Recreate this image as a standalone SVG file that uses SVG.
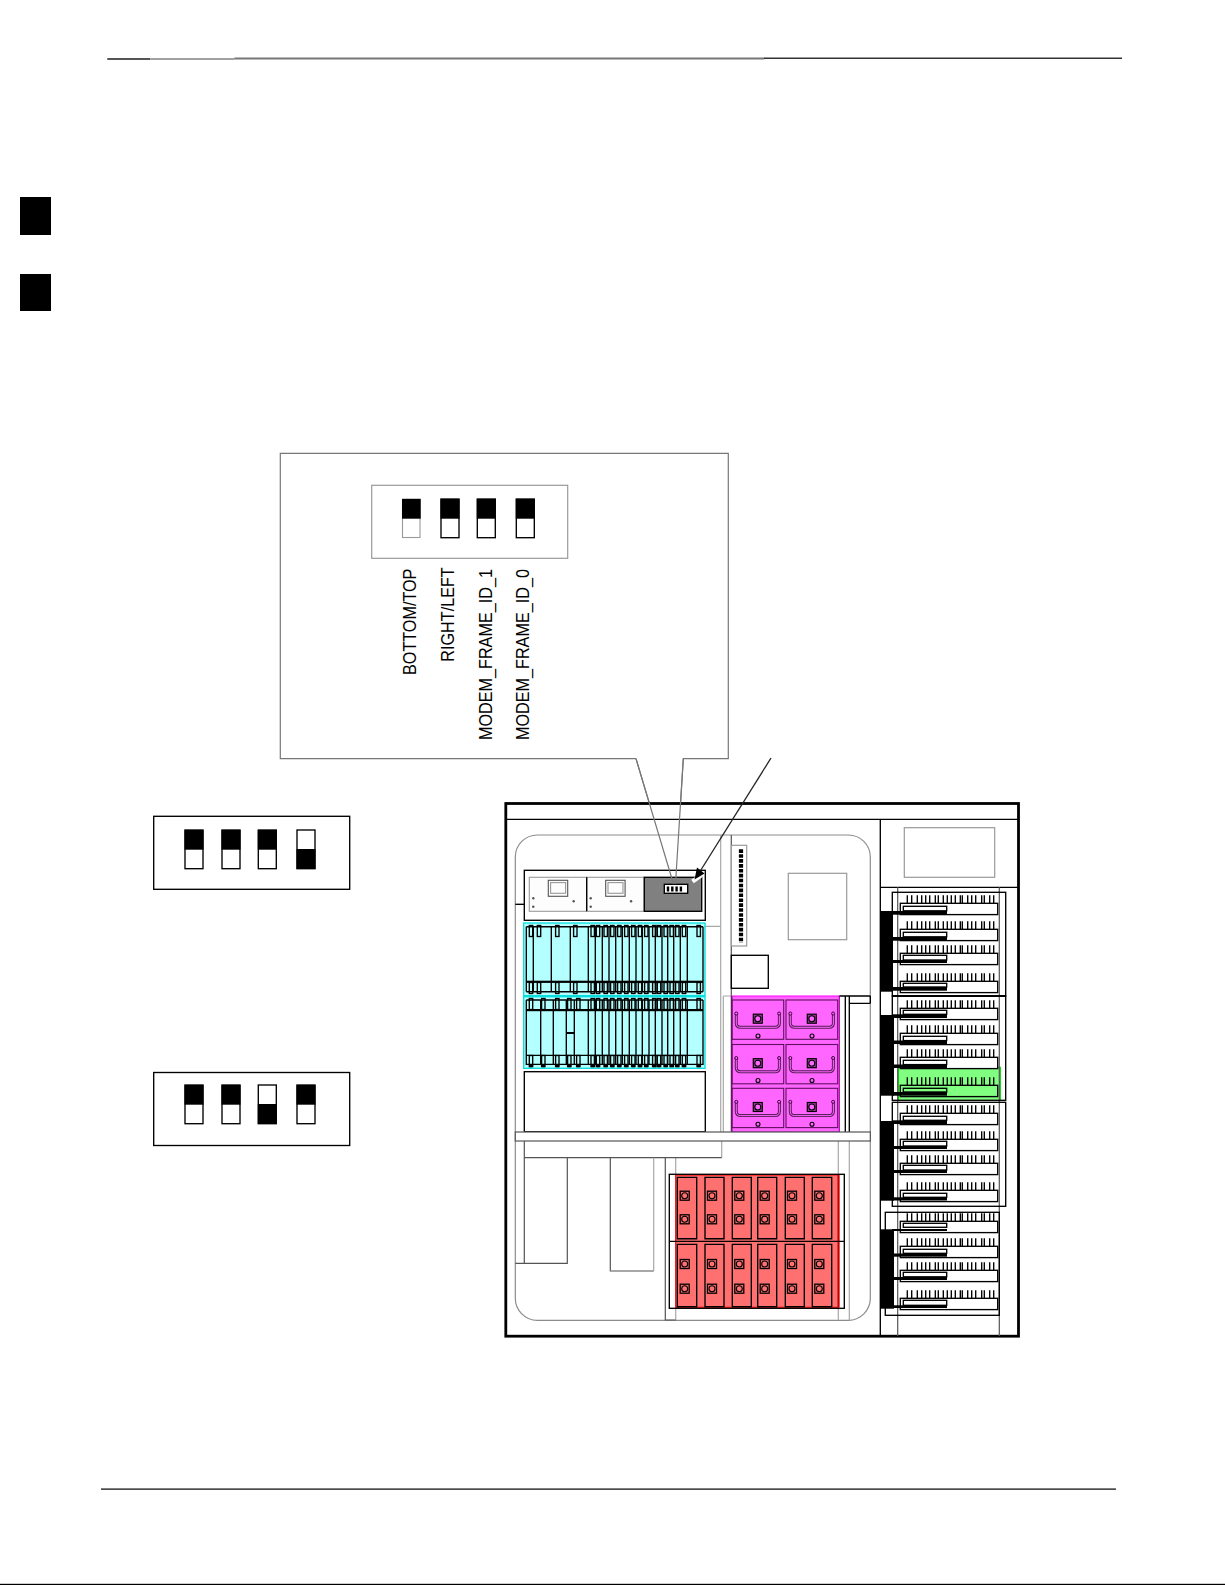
<svg xmlns="http://www.w3.org/2000/svg" width="1225" height="1585" viewBox="0 0 1225 1585">
<style>
.k{fill:none;stroke:#000;stroke-width:1.35}
.w{fill:#fff;stroke:#000;stroke-width:1.35}
.g{fill:none;stroke:#a8a8a8;stroke-width:1.2}
.d{fill:none;stroke:#555;stroke-width:1.2}
.b{fill:#000;stroke:none}
.lbl{font-family:"Liberation Sans",Arial,sans-serif;font-size:18px;fill:#000}
</style>
<defs>
<g id="sw-up"><rect x="0" y="0" width="18" height="38.7" class="w"/><rect x="-.5" y="0" width="19" height="19.7" class="b"/></g>
<g id="sw-down"><rect x="0" y="0" width="18" height="38.7" class="w"/><rect x="-.5" y="19" width="19" height="20" class="b"/></g>
<path id="ticks" class="k" d="M907.3 0v8M911.7 0v8M917.3 0v8M921.7 0v8M925.7 0v8M929.7 0v8M935.3 0v8M938.3 0v8M943.3 0v8M947.3 0v8M951.3 0v8M955.3 0v8M960.3 0v8M962.3 0v8M967.7 0v8M971.7 0v8M975.7 0v8M981.7 0v8M984.3 0v8M989.7 0v8M993.7 0v8"/>
<rect id="unit" x="900.3" y="0" width="97.4" height="11.3" stroke="#000" stroke-width="1.35"/>
<rect id="hnd" x="-1.7" y="0" width="3.4" height="11" class="k"/>
<g id="hcommon">
<use href="#hnd" x="592.7"/><use href="#hnd" x="598"/><use href="#hnd" x="605.7"/><use href="#hnd" x="612.3"/><use href="#hnd" x="619.3"/><use href="#hnd" x="626.3"/><use href="#hnd" x="633.3"/><use href="#hnd" x="640"/><use href="#hnd" x="646.3"/><use href="#hnd" x="654.3"/><use href="#hnd" x="659"/><use href="#hnd" x="665.7"/><use href="#hnd" x="671.7"/><use href="#hnd" x="677.3"/><use href="#hnd" x="684"/><use href="#hnd" x="698.7"/>
</g>
<g id="hrow1"><use href="#hnd" x="531"/><use href="#hnd" x="539"/><use href="#hnd" x="557.3"/><use href="#hnd" x="575.3"/><use href="#hcommon"/></g>
<g id="hrow2"><use href="#hnd" x="531"/><use href="#hnd" x="543.3"/><use href="#hnd" x="557.3"/><use href="#hnd" x="569.3"/><use href="#hnd" x="578.3"/><use href="#hcommon"/></g>
<path id="divcommon" class="k" d="M588.3 0v65M595.3 0v65M602.3 0v65M609 0v65M615.7 0v65M622.3 0v65M629.3 0v65M636 0v65M642.3 0v65M649 0v65M655.3 0v65M662 0v65M667.7 0v65M673.7 0v65M680.3 0v65M687.3 0v65M703 0v65M526.3 0v65"/>
<g id="term"><rect x="-4.5" y="-4.5" width="9" height="9" fill="none" stroke="#000" stroke-width="1.3"/><circle r="3" fill="none" stroke="#000" stroke-width="1.1"/></g>
<g id="drawer">
<rect x="0" y="0" width="51.7" height="39.3" fill="none" stroke="#601060" stroke-width="1.1"/>
<path d="M4.3 14v9q0 4.3 4.3 4.3h34.500q4.300 0 4.300-4.300v-9" fill="none" stroke="#5a205a" stroke-width="3"/>
<path d="M4.300 14v9q0 4.300 4.300 4.300h34.500q4.300 0 4.300-4.300v-9" fill="none" stroke="#ff66ff" stroke-width="1"/>
<circle cx="4.300" cy="13.500" r="1.500" fill="#ff66ff" stroke="#400040" stroke-width="1"/>
<circle cx="47.100" cy="13.500" r="1.500" fill="#ff66ff" stroke="#400040" stroke-width="1"/>
<rect x="21.300" y="14.200" width="9" height="9" fill="#a040a0" stroke="#000" stroke-width="1.200"/>
<circle cx="25.800" cy="18.700" r="3" fill="#ff66ff" stroke="#000" stroke-width="1.100"/>
<circle cx="26" cy="36" r="2" fill="#ff66ff" stroke="#000" stroke-width="1.100"/>
</g>
<g id="psu">
<rect x="0" y="0" width="57.400" height="34" fill="#fdfdfd" stroke="#9a9a9a" stroke-width="1.100"/>
<rect x="19" y="3" width="19.400" height="16" fill="none" stroke="#555" stroke-width="1.100"/>
<rect x="21.300" y="5.300" width="15" height="10.700" fill="none" stroke="#999" stroke-width="1.100"/>
<circle cx="4" cy="21" r="1.200" fill="#555"/><circle cx="4" cy="29.400" r="1.200" fill="#555"/><circle cx="44.400" cy="24" r="1.200" fill="#555"/>
</g>
</defs>
<g id="page-rules">
<rect x="107.300" y="58" width="43" height="2" fill="#555"/>
<rect x="150.300" y="58" width="84" height="2" fill="#a0a0a0"/>
<rect x="234.300" y="57.500" width="530" height="2" fill="#777"/>
<rect x="764" y="57.500" width="358" height="1.500" fill="#333"/>
<rect x="101" y="1488.500" width="1015" height="1.200" fill="#000"/>
<rect x="0" y="1583.800" width="1225" height="1.200" fill="#000"/>
<rect x="20" y="197" width="31" height="38" class="b"/>
<rect x="20" y="274" width="31" height="37" class="b"/>
</g>
<g id="callout">
<path d="M636 758.700H280.300V453.300H728.300V758.700H683.300L675.500 884M636 758.700L673.500 884" fill="#fff" stroke="#777" stroke-width="1.200"/>
<rect x="371.700" y="485.300" width="196" height="73" fill="#fff" stroke="#999" stroke-width="1.200"/>
<rect x="402.500" y="499" width="17.500" height="38.500" fill="#fff" stroke="#999" stroke-width="1.100"/><rect x="402" y="499" width="18.700" height="19.700" class="b"/>
<use href="#sw-up" x="441" y="499"/><use href="#sw-up" x="477.300" y="499"/><use href="#sw-up" x="516.300" y="499"/>
<text class="lbl" transform="translate(415.700 675) rotate(-90) scale(.9 1)">BOTTOM/TOP</text>
<text class="lbl" transform="translate(454.300 661.700) rotate(-90) scale(.9 1)">RIGHT/LEFT</text>
<text class="lbl" transform="translate(491.700 740) rotate(-90) scale(.9 1)">MODEM_FRAME_ID_1</text>
<text class="lbl" transform="translate(529 740) rotate(-90) scale(.9 1)">MODEM_FRAME_ID_0</text>
</g>
<g id="dip-example-1">
<rect x="153.700" y="816.300" width="196" height="73" class="w"/>
<use href="#sw-up" x="185" y="830"/><use href="#sw-up" x="222" y="830"/><use href="#sw-up" x="258.300" y="830"/><use href="#sw-down" x="297" y="830"/>
</g>
<g id="dip-example-2">
<rect x="153.700" y="1072.500" width="196" height="73" class="w"/>
<use href="#sw-up" x="185" y="1085"/><use href="#sw-up" x="222" y="1085"/><use href="#sw-down" x="258.300" y="1085"/><use href="#sw-up" x="297" y="1085"/>
</g>
<g id="frame">
<rect x="505.800" y="803.500" width="512.700" height="532.700" fill="#fff" stroke="#000" stroke-width="2.800"/>
<path class="k" d="M506 819.300H1018M880.300 819.300V1335M880.300 887.300H1018"/>
<rect x="904.300" y="827.700" width="90.400" height="49.600" fill="#fff" stroke="#999" stroke-width="1.200"/>
<rect x="515.300" y="835" width="355" height="485.300" rx="22" fill="none" stroke="#8c8c8c" stroke-width="1.200"/>
<path class="g" d="M720.700 835V1132M723.300 996V1132M838.300 1141V1320M849.300 1141V1320M705 926.300H720.700M723.300 996H731.300M675.700 1157.700V1320M721.700 1141V1157.700"/>
<path class="d" d="M731.300 835V1132M524.300 1141V1263.300M515.300 1263.300H567.300V1157.700M524.300 1157.700H721.700M610.300 1157.700V1271H653.700M665.300 1157.700V1320H675.700M665.300 1157.700H675.700"/>
<path class="g" d="M653.700 1157.700V1271M610.300 1271H653.700"/>
<path class="k" d="M515.300 904.300H524.300"/>
</g>
<g id="power-shelf">
<rect x="524.300" y="870.300" width="181" height="50" class="w"/>
<use href="#psu" x="529.300" y="877.300"/>
<use href="#psu" x="586.700" y="877.300"/>
<path class="k" d="M586.700 877.300V911.300"/>
<rect x="644.300" y="877.300" width="57.400" height="34" fill="#808080" stroke="#000" stroke-width="1.350"/>
<rect x="664.300" y="884.300" width="23.400" height="9" class="w"/>
<path d="M668 886.500v5M672.300 886.500v5M676.600 886.500v5M680.900 886.500v5" stroke="#000" stroke-width="2.400" fill="none"/>
</g>
<g id="connectors">
<path d="M771 758L699 873" fill="none" stroke="#222" stroke-width="1.300"/>
<path d="M692.500 881.500L701 875.500" stroke="#fff" stroke-width="4.500" fill="none"/>
<path d="M694.500 879.500L697 867.500L704.500 873.500Z" class="b"/>
<path d="M636 758.700L673.500 884M683.300 758.700L675.500 884" fill="none" stroke="#777" stroke-width="1.200"/>
</g>
<g id="card-cage-1">
<rect x="523.700" y="923" width="181.300" height="72.700" fill="#b4ffff" stroke="#00dede" stroke-width="1.300"/>
<use href="#divcommon" y="926.700"/>
<path class="k" d="M533.300 926.700v65M551.300 926.700v65M570.300 926.700v65M526.300 926.700H703M526.300 991.700H703"/>
<rect x="526.300" y="980.700" width="176.700" height="2.200" class="b"/>
<use href="#hrow1" y="925.500"/>
<use href="#hrow1" y="982.500"/>
</g>
<g id="card-cage-2">
<rect x="523.700" y="996.700" width="181.300" height="71.600" fill="#b4ffff" stroke="#00dede" stroke-width="1.300"/>
<use href="#divcommon" y="1000"/>
<path class="k" d="M540.700 1000v64.700M553.300 1000v64.700M566.300 1000v64.700M574.300 1000v64.700M526.300 1000H703M526.300 1055.300H703M526.300 1064.300H703"/>
<rect x="526.300" y="1009" width="176.700" height="2.200" class="b"/>
<rect x="566.300" y="1032" width="8" height="2" class="b"/>
<use href="#hrow2" y="998.500"/>
<use href="#hrow2" y="1055.500"/>
<path d="M531 1064.500v2.800M543.300 1064.500v2.800M557.300 1064.500v2.800M569.300 1064.500v2.800M578.300 1064.500v2.800M592.700 1064.500v2.800M598 1064.500v2.800M605.700 1064.500v2.800M612.300 1064.500v2.800M619.300 1064.500v2.800M626.300 1064.500v2.800M633.300 1064.500v2.800M640 1064.500v2.800M646.300 1064.500v2.800M654.300 1064.500v2.800M659 1064.500v2.800M665.700 1064.500v2.800M671.700 1064.500v2.800M677.300 1064.500v2.800M684 1064.500v2.800M698.700 1064.500v2.800" fill="none" stroke="#000" stroke-width="3.400"/>
</g>
<rect id="blank-panel" x="524.300" y="1071.700" width="181" height="60" class="w"/>
<g id="centre-top">
<rect x="731.300" y="845.300" width="15.400" height="100.700" fill="#fff" stroke="#999" stroke-width="1.200"/>
<path d="M741 849.300V942.700" fill="none" stroke="#000" stroke-width="4.200" stroke-dasharray="3.600 1.310"/>
<rect x="788.300" y="873.300" width="58.400" height="66.400" fill="#fff" stroke="#999" stroke-width="1.200"/>
<rect x="731.300" y="955.300" width="37" height="33" class="w"/>
</g>
<g id="magenta-modules">
<rect x="731.300" y="996" width="108" height="136" fill="#ff66ff" stroke="none"/>
<path d="M731.300 996H839.300" stroke="#ff00ff" stroke-width="1.200" fill="none"/>
<path d="M839.300 996V1132H731.300" stroke="#b000b0" stroke-width="1.200" fill="none"/>
<path d="M731.800 996V1132" stroke="#600060" stroke-width="1.200" fill="none"/>
<use href="#drawer" x="732" y="1000"/><use href="#drawer" x="786" y="1000"/>
<use href="#drawer" x="732" y="1044.500"/><use href="#drawer" x="786" y="1044.500"/>
<use href="#drawer" x="732" y="1088.300"/><use href="#drawer" x="786" y="1088.300"/>
<path class="k" d="M845.300 996V1132M849.300 996V1132M839.300 996H870.300M849.300 1003.300H870.300M870.300 996V1003.300"/>
</g>
<rect id="shelf" x="515.300" y="1132" width="355" height="9" fill="#fff" stroke="#555" stroke-width="1.200"/>
<g id="batteries">
<rect x="675.700" y="1175" width="163" height="132.300" fill="#ff7070" stroke="#ff1010" stroke-width="1.200"/>
<path d="M838.500 1175V1307.300" stroke="#c00000" stroke-width="2" fill="none"/>
<rect x="669.300" y="1174.300" width="175" height="134" class="k"/>
<path class="k" d="M669.300 1241.300H844.300"/>
<path class="k" d="M677.300 1177.300h19.400v61.400h-19.400zM705 1177.300h19v61.400h-19zM732.300 1177.300h19v61.400h-19zM757.700 1177.300h19v61.400h-19zM785.300 1177.300h19v61.400h-19zM812.300 1177.300h19.400v61.400h-19.400zM677.300 1244.300h19.400v62.400h-19.400zM705 1244.300h19v62.400h-19zM732.300 1244.300h19v62.400h-19zM757.700 1244.300h19v62.400h-19zM785.300 1244.300h19v62.400h-19zM812.300 1244.300h19.400v62.400h-19.400z"/>
<use href="#term" x="684.700" y="1195.700"/><use href="#term" x="712" y="1195.700"/><use href="#term" x="739.300" y="1195.700"/><use href="#term" x="764.700" y="1195.700"/><use href="#term" x="792" y="1195.700"/><use href="#term" x="819.300" y="1195.700"/>
<use href="#term" x="684.700" y="1219.300"/><use href="#term" x="712" y="1219.300"/><use href="#term" x="739.300" y="1219.300"/><use href="#term" x="764.700" y="1219.300"/><use href="#term" x="792" y="1219.300"/><use href="#term" x="819.300" y="1219.300"/>
<use href="#term" x="684.700" y="1264"/><use href="#term" x="712" y="1264"/><use href="#term" x="739.300" y="1264"/><use href="#term" x="764.700" y="1264"/><use href="#term" x="792" y="1264"/><use href="#term" x="819.300" y="1264"/>
<use href="#term" x="684.700" y="1288.700"/><use href="#term" x="712" y="1288.700"/><use href="#term" x="739.300" y="1288.700"/><use href="#term" x="764.700" y="1288.700"/><use href="#term" x="792" y="1288.700"/><use href="#term" x="819.300" y="1288.700"/>
</g>
<g id="rf-racks">
<rect x="898.300" y="1067.300" width="102" height="33" fill="#80ff80"/>
<path d="M898.300 1100.300V1067.300H1000.300V1100.300" fill="none" stroke="#00e000" stroke-width="1.300"/>
<path d="M897.700 887.300V1336M999.300 887.300V1336" fill="none" stroke="#555" stroke-width="1.200"/>
<rect x="892.300" y="892.300" width="113.400" height="103.700" class="k"/>
<rect x="892.300" y="996" width="113.400" height="104.300" class="k"/>
<path d="M892.300 996H1005.700" stroke="#000" stroke-width="1.800" fill="none"/>
<rect x="892.300" y="1102.300" width="113.400" height="104" class="k"/>
<rect x="885.300" y="1212.300" width="114" height="103" class="k"/>
<rect x="880" y="911" width="13" height="80.700" class="b"/>
<rect x="880" y="1015" width="14" height="80.700" class="b"/>
<rect x="880" y="1121" width="14" height="79.700" class="b"/>
<rect x="880" y="1229.300" width="14" height="79.400" class="b"/>
<g fill="#fff">
<use href="#ticks" y="895.300"/><use href="#unit" y="903.300"/><rect x="903.300" y="906.300" width="43.400" height="4.500" class="k"/><rect x="892" y="911" width="55" height="3.700" class="b"/>
<use href="#ticks" y="921.300"/><use href="#unit" y="929.300"/><rect x="903.300" y="932.300" width="43.400" height="4.500" class="k"/><rect x="892" y="937" width="55" height="3.700" class="b"/>
<use href="#ticks" y="945.300"/><use href="#unit" y="953.300"/><rect x="903.300" y="955.300" width="43.400" height="4.700" class="k"/><rect x="892" y="960" width="55" height="3" class="b"/>
<use href="#ticks" y="973.300"/><use href="#unit" y="981.300"/><rect x="903.300" y="983.300" width="43.400" height="3.700" class="k"/><rect x="892" y="987" width="55" height="3.700" class="b"/>
<use href="#ticks" y="1000.300"/><use href="#unit" y="1008.300"/><rect x="903.300" y="1010.300" width="43.400" height="4" class="k"/><rect x="892" y="1014.300" width="55" height="3.700" class="b"/>
<use href="#ticks" y="1025.300"/><use href="#unit" y="1033.300"/><rect x="903.300" y="1036.300" width="43.400" height="4.300" class="k"/><rect x="892" y="1040.500" width="55" height="3.500" class="b"/>
<use href="#ticks" y="1049.300"/><use href="#unit" y="1057.300"/><rect x="903.300" y="1060.300" width="43.400" height="4.300" class="k"/><rect x="892" y="1064.500" width="55" height="3.500" class="b"/>
<use href="#ticks" y="1077.300"/><use href="#unit" y="1085.300" fill="none"/><rect x="903.300" y="1088.300" width="43.400" height="3.700" class="k"/><rect x="892" y="1092" width="55" height="3.700" class="b"/>
<use href="#ticks" y="1105.300"/><use href="#unit" y="1113.300"/><rect x="903.300" y="1116.300" width="43.400" height="4" class="k"/><rect x="892" y="1120.300" width="55" height="3.700" class="b"/>
<use href="#ticks" y="1131.300"/><use href="#unit" y="1139.300"/><rect x="903.300" y="1141.300" width="43.400" height="4.700" class="k"/><rect x="892" y="1146" width="55" height="3" class="b"/>
<use href="#ticks" y="1155.300"/><use href="#unit" y="1163.300"/><rect x="903.300" y="1165.300" width="43.400" height="4.700" class="k"/><rect x="892" y="1170" width="55" height="3" class="b"/>
<use href="#ticks" y="1182.300"/><use href="#unit" y="1190.300"/><rect x="903.300" y="1193.300" width="43.400" height="4" class="k"/><rect x="892" y="1197.300" width="55" height="3.200" class="b"/>
<use href="#ticks" y="1213.300"/><use href="#unit" y="1221.300"/><rect x="903.300" y="1223.300" width="43.400" height="4" class="k"/><rect x="892" y="1229" width="55" height="2" class="b"/>
<use href="#ticks" y="1238.300"/><use href="#unit" y="1246.300"/><rect x="903.300" y="1249.300" width="43.400" height="4" class="k"/><rect x="892" y="1253.500" width="55" height="3.200" class="b"/>
<use href="#ticks" y="1262.300"/><use href="#unit" y="1270.300"/><rect x="903.300" y="1272.300" width="43.400" height="4.500" class="k"/><rect x="892" y="1277" width="55" height="3" class="b"/>
<use href="#ticks" y="1290.300"/><use href="#unit" y="1298.300"/><rect x="903.300" y="1300.300" width="43.400" height="5" class="k"/><rect x="892" y="1305.300" width="55" height="2.700" class="b"/>
</g>
</g>
</svg>
